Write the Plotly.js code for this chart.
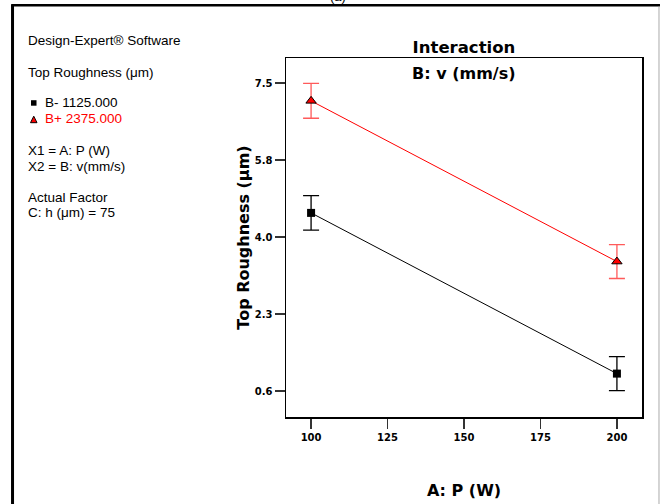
<!DOCTYPE html>
<html><head><meta charset="utf-8">
<script src="https://cdn.plot.ly/plotly-3.0.1.min.js"></script>
<style>html,body{margin:0;padding:0;background:#fff}#chart{width:660px;height:504px}</style>
</head><body><div id="chart"></div>
<script>
// Data
const powerW = [100, 200];
const lowLabel = 'B- 1125.000';
const highLabel = 'B+ 2375.000';
const lowVals = [4.59, 0.99];
const lowErr = [0.385, 0.38];
const highVals = [7.10, 3.50];
const highErr = [0.39, 0.38];
const yTickVals = [0.6, 2.325, 4.05, 5.775, 7.5];
const yTickText = ['0.6', '2.3', '4.0', '5.8', '7.5'];
const xTickVals = [100, 125, 150, 175, 200];

const L = 285.7, R = 642, T = 58.3, B = 417.3;
const W = R - L, H = B - T;
const px = x => (x - L) / W;
const py = y => (B - y) / H;

const boldFam = 'DejaVu Sans, Arial Black, sans-serif';

const traces = [
  {x: powerW, y: lowVals, name: lowLabel, type: 'scatter', mode: 'lines+markers',
   line: {color: '#000', width: 1},
   marker: {symbol: 'square', size: 8, color: '#000'},
   error_y: {type: 'data', array: lowErr, visible: true, color: '#000', thickness: 1.3, width: 8}},
  {x: powerW, y: highVals, name: highLabel, type: 'scatter', mode: 'lines+markers',
   line: {color: '#ff0000', width: 1},
   marker: {symbol: 'triangle-up', size: 9, color: '#ff0000', line: {color: '#000', width: 1}},
   error_y: {type: 'data', array: highErr, visible: true, color: '#ff5a5a', thickness: 1.3, width: 8}}
];

const leftFont = {family: 'Liberation Sans, Arial, sans-serif', size: 13.5, color: '#000'};
function leftText(text, x, y, color) {
  return {text: text, xref: 'paper', yref: 'paper', x: px(x), y: py(y), xanchor: 'left', yanchor: 'middle',
          showarrow: false, borderpad: 0, font: Object.assign({}, leftFont, color ? {color: color} : {})};
}
const annotations = [
  leftText('Design-Expert® Software', 26, 41),
  leftText('Top Roughness (μm)', 26, 73),
  leftText(lowLabel, 43, 103),
  leftText(highLabel, 43, 119, '#ff0000'),
  leftText('X1 = A: P (W)', 26, 151),
  leftText('X2 = B: v(mm/s)', 26, 167),
  leftText('Actual Factor', 26, 198),
  leftText('C: h (μm) = 75', 26, 213),
  {text: 'B: v (mm/s)', xref: 'paper', yref: 'paper', x: 0.5, y: py(74), xanchor: 'center', yanchor: 'middle',
   showarrow: false, font: {family: boldFam, size: 16, color: '#000', weight: 'bold'}},
  {text: '(a)', xref: 'paper', yref: 'paper', x: px(338), y: py(-3), xanchor: 'center', yanchor: 'middle',
   showarrow: false, font: {family: 'Liberation Sans, Arial, sans-serif', size: 13, color: '#000'}}
];

const shapes = [
  // outer frame
  {type: 'line', xref: 'paper', yref: 'paper', x0: px(12), x1: px(12), y0: py(4.5), y1: py(510), line: {color: '#000', width: 3}},
  {type: 'line', xref: 'paper', yref: 'paper', x0: px(11), x1: px(660), y0: py(5.5), y1: py(5.5), line: {color: '#000', width: 2.5}},
  {type: 'line', xref: 'paper', yref: 'paper', x0: px(659), x1: px(659), y0: py(7), y1: py(510), line: {color: '#aaa', width: 1}},
  // legend symbols
  {type: 'rect', xref: 'paper', yref: 'paper', x0: px(30.5), x1: px(36), y0: py(100.5), y1: py(106), fillcolor: '#000', line: {width: 0}},
  {type: 'path', xref: 'paper', yref: 'paper',
   path: `M ${px(30)} ${py(123)} L ${px(36.5)} ${py(123)} L ${px(33.25)} ${py(116.5)} Z`,
   fillcolor: '#ff0000', line: {color: '#000', width: 1}}
];

const tickFont = {family: boldFam, size: 10, color: '#000', weight: 'bold'};
const layout = {
  width: 660, height: 504,
  margin: {l: L, r: 660 - R, t: T, b: 504 - B, pad: 0},
  paper_bgcolor: '#fff', plot_bgcolor: '#fff',
  showlegend: false,
  title: {text: 'Interaction', x: px(463.8), xref: 'paper', xanchor: 'center', y: 1 - 47 / 504, yref: 'container', yanchor: 'middle',
          font: {family: boldFam, size: 16.5, color: '#000', weight: 'bold'}},
  xaxis: {range: [91.8, 208.2], tickvals: xTickVals, ticks: 'outside', ticklen: 10, tickwidth: 1.3, tickcolor: '#333',
          showline: true, linecolor: '#000', linewidth: 1.5, mirror: true, showgrid: false, zeroline: false,
          tickfont: tickFont,
          title: {text: 'A: P (W)', standoff: 43, font: {family: boldFam, size: 16, color: '#000', weight: 'bold'}},
          automargin: false, fixedrange: true},
  yaxis: {range: [0.018, 8.06], tickvals: yTickVals, ticktext: yTickText, ticks: 'outside', ticklen: 10, tickwidth: 1.3, tickcolor: '#333',
          showline: true, linecolor: '#000', linewidth: 1.5, mirror: true, showgrid: false, zeroline: false,
          tickfont: tickFont,
          title: {text: 'Top Roughness (μm)', standoff: 1, font: {family: boldFam, size: 16, color: '#000', weight: 'bold'}},
          automargin: false, fixedrange: true},
  annotations: annotations,
  shapes: shapes
};

Plotly.newPlot('chart', traces, layout, {displayModeBar: false, staticPlot: true});
</script></body></html>
